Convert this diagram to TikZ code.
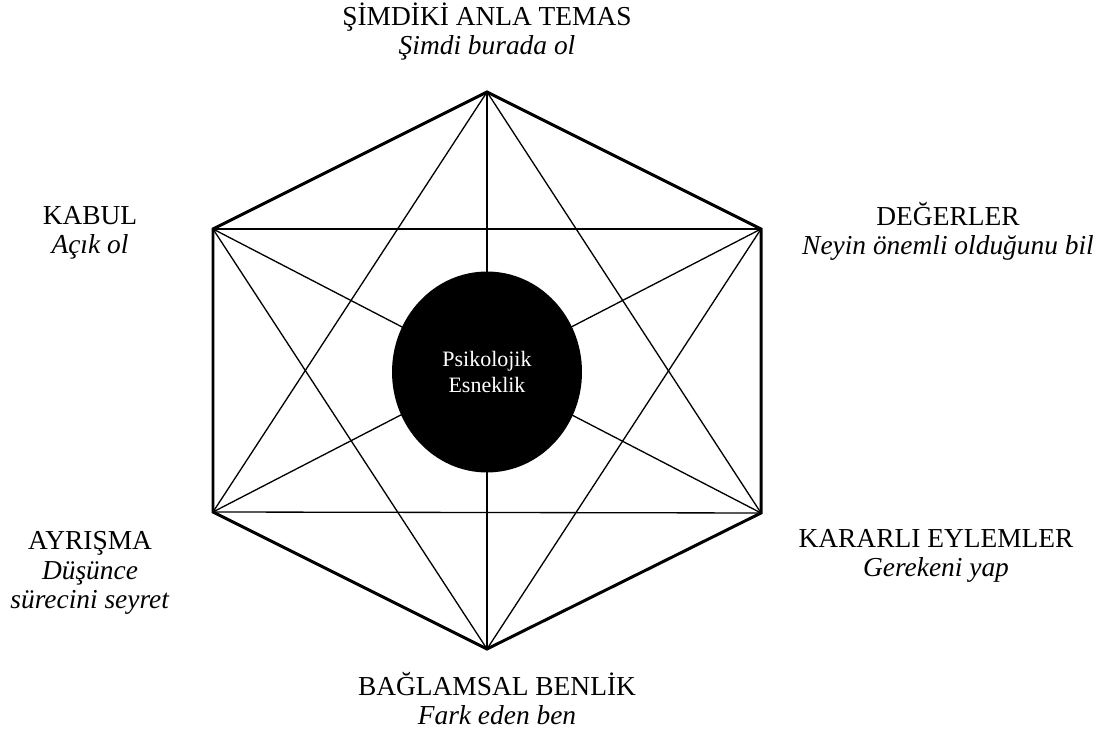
\documentclass[tikz,border=0pt]{standalone}
\usepackage{fontspec}
\setmainfont{Liberation Serif}
\usetikzlibrary{shapes.geometric, positioning}

\begin{document}
\begin{tikzpicture}[
    x=0.02cm, y=0.02cm,
    frame/.style={line width=1.7pt, line join=miter},
    link/.style={line width=0.75pt},
    core/.style={ellipse, fill=black, minimum width=3.8cm, minimum height=4.02cm, inner sep=0pt, text=white, align=center, font=\fontsize{12.5}{14.8}\selectfont},
    facet/.style={align=center, anchor=base, inner sep=0pt, font=\fontsize{15.6}{16.8}\selectfont}
]
\useasboundingbox (0,0) rectangle (1108,736);

% hexagon corners, clockwise from the top
\coordinate (v1) at (487,644);
\coordinate (v2) at (761,507);
\coordinate (v3) at (761,223);
\coordinate (v4) at (487,87);
\coordinate (v5) at (213,224);
\coordinate (v6) at (213,507);

% every corner joined to every other one
\foreach \i in {1,...,5} {
    \pgfmathtruncatemacro{\k}{\i+1}
    \foreach \j in {\k,...,6}
        \draw[link] (v\i) -- (v\j);
}
\draw[frame] (v1) -- (v2) -- (v3) -- (v4) -- (v5) -- (v6) -- cycle;

\node[core] (core) at (487,364) {Psikolojik\\Esneklik};

% base anchor sits on the last line
\node[facet] (simdi) at (487,681) {ŞİMDİKİ ANLA TEMAS\\\textit{Şimdi burada ol}};
\node[facet] (deger) at (948,481) {DEĞERLER\\\textit{Neyin önemli olduğunu bil}};
\node[facet] (eylem) at (936,159) {KARARLI EYLEMLER\\\textit{Gerekeni yap}};
\node[facet] (benlik) at (497,11) {BAĞLAMSAL BENLİK\\\textit{Fark eden ben}};
\node[facet] (ayrisma) at (90,127) {AYRIŞMA\\\textit{Düşünce}\\\textit{sürecini seyret}};
\node[facet] (kabul) at (90,482) {KABUL\\\textit{Açık ol}};

\end{tikzpicture}
\end{document}
